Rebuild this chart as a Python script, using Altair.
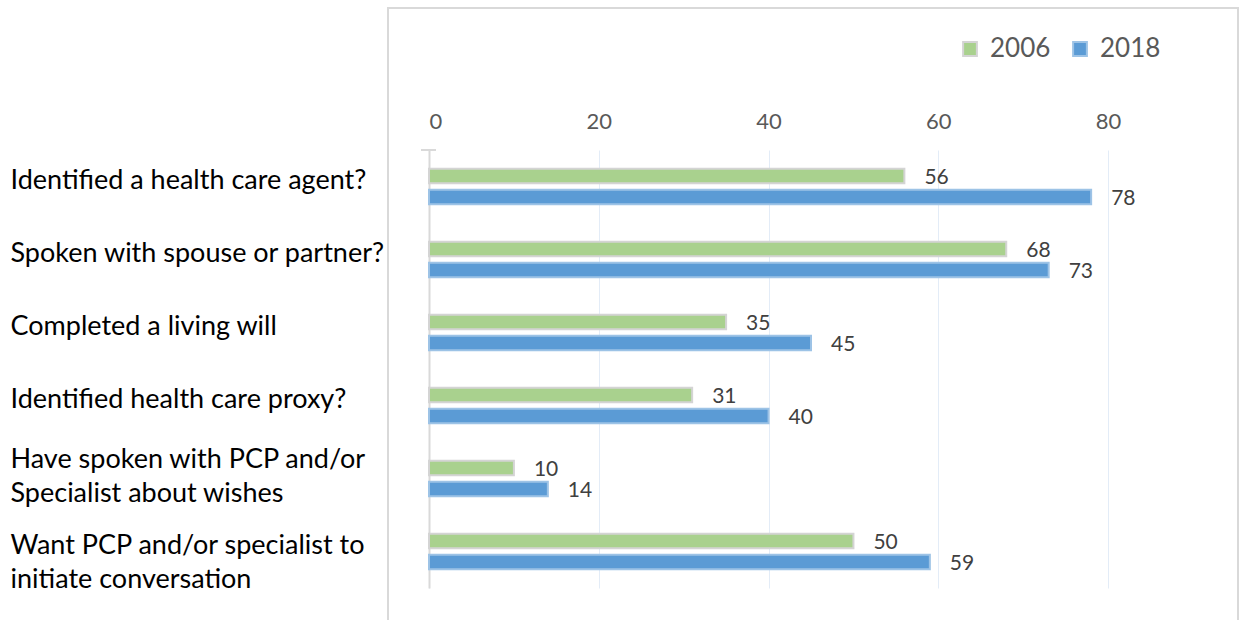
import altair as alt
import pandas as pd

categories = [
    "Identified a health care agent?",
    "Spoken with spouse or partner?",
    "Completed a living will",
    "Identified health care proxy?",
    "Have spoken with PCP and/or\nSpecialist about wishes",
    "Want PCP and/or specialist to\ninitiate conversation",
]
years = ["2006", "2018"]
values_2006 = [56, 68, 35, 31, 10, 50]
values_2018 = [78, 73, 45, 40, 14, 59]
x_ticks = [0, 20, 40, 60, 80]

rows = []
for c, a, b in zip(categories, values_2006, values_2018):
    rows.append({"cat": c, "year": "2006", "value": a})
    rows.append({"cat": c, "year": "2018", "value": b})
df = pd.DataFrame(rows)

FONT = "Lato"
W, H = 764, 438

y_enc = alt.Y("cat:N", sort=categories,
              scale=alt.Scale(paddingInner=0.514, paddingOuter=0.257),
              axis=alt.Axis(title=None, orient="left", labelAlign="left",
                            labelPadding=419, ticks=False, tickSize=0,
                            labelLimit=420, labelFontSize=27, labelFont=FONT,
                            labelColor="#000000", labelLineHeight=34,
                            labelExpr="split(datum.label, '\\n')",
                            labelOffset={"condition": {"test": "substring(datum.value, 0, 4) == 'Have'",
                                                       "value": -19},
                                         "value": -6},
                            domain=True, domainColor="#d9d9d9", domainWidth=2,
                            grid=False))
yoff = alt.YOffset("year:N", sort=years,
                   scale=alt.Scale(paddingInner=0.31, paddingOuter=0))
x_enc = alt.X("value:Q", scale=alt.Scale(domain=[0, 90], nice=False),
              axis=alt.Axis(title=None, orient="top", values=x_ticks,
                            labelFontSize=22, labelFont=FONT, labelColor="#595959",
                            labelPadding=17, ticks=False, domain=False,
                            grid=True, gridColor="#e3ecf7", gridWidth=1))

legend_kw = dict(title=None, orient="none", direction="horizontal",
                 legendX=528, legendY=-114, symbolType="square",
                 symbolSize=190, labelFontSize=26, labelFont=FONT,
                 labelColor="#595959", columnPadding=16,
                 labelOffset=7, symbolStrokeWidth=2)

base = alt.Chart(df)

bars = base.mark_bar(strokeWidth=2).encode(
    x=x_enc, y=y_enc, yOffset=yoff,
    color=alt.Color("year:N", sort=years,
                    scale=alt.Scale(domain=years, range=["#a9d18e", "#5b9bd5"]),
                    legend=alt.Legend(**legend_kw)),
    stroke=alt.Stroke("year:N", sort=years,
                      scale=alt.Scale(domain=years, range=["#d4d4d4", "#9dc3e6"]),
                      legend=alt.Legend(**legend_kw)),
)

labels = base.mark_text(align="left", baseline="middle", dx=20, dy=2,
                        fontSize=21, font=FONT, color="#404040").encode(
    x="value:Q", y=alt.Y("cat:N", sort=categories), yOffset=alt.YOffset("year:N", sort=years),
    text="value:Q",
)

frame = alt.Chart(pd.DataFrame({"k": [0]})).mark_rect(
    fill="transparent", stroke="#d9d9d9", strokeWidth=2).encode(
    x=alt.value(-41), x2=alt.value(809), y=alt.value(-142), y2=alt.value(480))

toptick = alt.Chart(pd.DataFrame({"k": [0]})).mark_rule(
    color="#d9d9d9", strokeWidth=2).encode(
    x=alt.value(-8), x2=alt.value(7), y=alt.value(0))

chart = alt.layer(frame, bars, labels, toptick).properties(
    width=W, height=H,
    background="white",
    autosize=alt.AutoSizeParams(type="none"),
    padding={"left": 429, "top": 150, "right": 1240 - 429 - W, "bottom": 620 - 150 - H},
).configure_view(strokeWidth=0, stroke="transparent")

chart.save("out.html", embed_options={"renderer": "svg", "actions": False})
